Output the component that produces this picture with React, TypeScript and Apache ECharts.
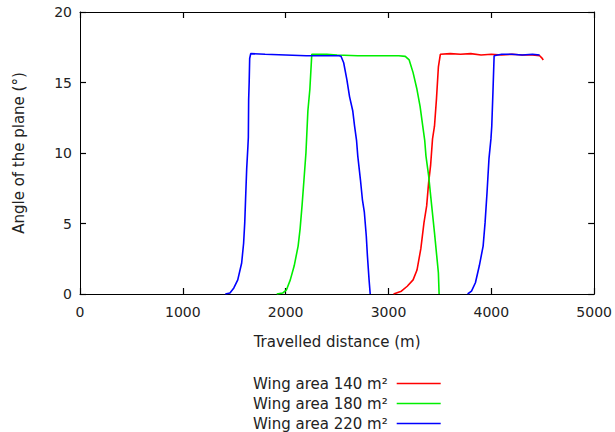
import React, { useEffect, useRef } from "react";
import * as echarts from "echarts";

const xTicks = { min: 0, max: 5000, interval: 1000 };
const yTicks = { min: 0, max: 20, interval: 5 };

const seriesNames = ["Wing area 140 m²", "Wing area 180 m²", "Wing area 220 m²"];
const seriesColors = ["#ff0000", "#00ee00", "#0000ff"];

// [travelled distance (m), angle (°)]
const wing140: (number | string)[][] = [
  [3049, 0], [3125, 0.2], [3182, 0.55], [3239, 1.0], [3277, 1.7], [3314, 3.2],
  [3345, 5.06], [3371, 6.25], [3390, 7.9], [3409, 9.1], [3428, 11], [3447, 11.9],
  [3466, 13.8], [3485, 16.1], [3504, 17.0], [3600, 17.05], [3700, 17.0], [3800, 17.05],
  [3900, 16.95], [4000, 17.0], [4100, 16.95], [4200, 17.0], [4300, 16.95], [4400, 16.95],
  [4470, 16.9], [4490, 16.75], [4505, 16.6],
];

const wing180: (number | string)[][] = [
  [1913, 0], [1970, 0.07], [2008, 0.3], [2045, 1.0], [2083, 2.0], [2121, 3.4],
  [2140, 4.6], [2159, 6.25], [2178, 8.1], [2197, 10], [2216, 13], [2235, 14.5],
  [2254, 17.0], [2400, 17.0], [2500, 16.95], [2700, 16.9], [2900, 16.9], [3100, 16.9],
  [3163, 16.85], [3201, 16.6], [3239, 15.7], [3277, 14.5], [3307, 13.3], [3333, 11.9],
  [3352, 10.9], [3364, 9.8], [3390, 8.4], [3420, 6.25], [3447, 4.35], [3473, 2.4],
  [3485, 1.5], [3492, 0],
];

const wing220: (number | string)[][] = [
  [1413, 0], [1458, 0.07], [1496, 0.43], [1534, 1.0], [1572, 2.2], [1591, 3.6],
  [1602, 5.06], [1610, 6.7], [1621, 8.9], [1633, 10.5], [1637, 11.1], [1640, 13.8],
  [1645, 15], [1650, 16.7], [1660, 17.05], [1800, 17.0], [2000, 16.95], [2200, 16.9],
  [2400, 16.9], [2519, 16.9], [2538, 16.86], [2564, 16.4], [2595, 15.2], [2621, 14],
  [2652, 13], [2670, 11.9], [2689, 10.9], [2701, 9.8], [2727, 8.1], [2746, 6.7],
  [2765, 5.8], [2784, 4.1], [2795, 2.7], [2811, 1.0], [2822, 0],
  [3300, "-"],
  [3769, 0], [3807, 0.2], [3845, 0.8], [3883, 2.0], [3920, 3.4], [3939, 5.06],
  [3958, 7.2], [3977, 9.6], [3996, 11], [4004, 11.9], [4015, 14.2], [4027, 16.9],
  [4100, 17.0], [4200, 17.0], [4300, 16.95], [4400, 17.0], [4470, 16.95],
];

const seriesData = [wing140, wing180, wing220];

const FONT = "DejaVu Sans";
const TEXT_COLOR = "#222222";

export default function App() {
  const ref = useRef<HTMLDivElement>(null);

  useEffect(() => {
    document.body.style.margin = "0";
    if (!ref.current) return;
    const chart = echarts.init(ref.current, undefined, { renderer: "svg" });

    const mkLine = () => ({ show: true, onZero: false, lineStyle: { color: "#000", width: 1 } });
    const mkTick = () => ({
      show: true,
      inside: true,
      length: 6,
      lineStyle: { color: "#000", width: 1.2, opacity: 1 },
    });
    const plain = (v: number) => String(v);

    chart.setOption({
      animation: false,
      backgroundColor: "#ffffff",
      textStyle: { fontFamily: FONT },
      grid: { left: 80, right: 16, top: 12, bottom: 138, containLabel: false },
      legend: {
        orient: "vertical",
        left: 253,
        top: 376,
        padding: 0,
        height: 70,
        align: "right",
        icon: "rect",
        itemWidth: 44,
        itemHeight: 1.6,
        itemGap: 5,
        data: seriesNames,
        textStyle: { fontFamily: FONT, fontSize: 15, color: TEXT_COLOR, lineHeight: 15, padding: [0, 4, 0, 0] },
      },
      xAxis: [
        {
          type: "value", position: "bottom", ...xTicks,
          name: "Travelled distance (m)", nameLocation: "middle", nameGap: 40,
          nameTextStyle: { fontFamily: FONT, fontSize: 15, color: TEXT_COLOR },
          axisLine: mkLine(), axisTick: mkTick(), splitLine: { show: false },
          axisLabel: { fontFamily: FONT, fontSize: 14, color: TEXT_COLOR, margin: 11, formatter: plain },
        },
        {
          type: "value", position: "top", ...xTicks,
          axisLine: mkLine(), axisTick: mkTick(), splitLine: { show: false },
          axisLabel: { show: false },
        },
      ],
      yAxis: [
        {
          type: "value", position: "left", ...yTicks,
          name: "Angle of the plane (°)", nameLocation: "middle", nameRotate: 90, nameGap: 54,
          nameTextStyle: { fontFamily: FONT, fontSize: 15, color: TEXT_COLOR },
          axisLine: mkLine(), axisTick: mkTick(), splitLine: { show: false },
          axisLabel: { fontFamily: FONT, fontSize: 14, color: TEXT_COLOR, margin: 8, formatter: plain },
        },
        {
          type: "value", position: "right", ...yTicks,
          axisLine: mkLine(), axisTick: mkTick(), splitLine: { show: false },
          axisLabel: { show: false },
        },
      ],
      series: seriesNames.map((name, i) => ({
        name, type: "line", data: seriesData[i], xAxisIndex: 0, yAxisIndex: 0,
        showSymbol: false, symbol: "none", connectNulls: false,
        lineStyle: { color: seriesColors[i], width: 1.6 },
        itemStyle: { color: seriesColors[i] },
      })),
    });

    return () => chart.dispose();
  }, []);

  return <div ref={ref} style={{ width: 615, height: 432 }} />;
}
